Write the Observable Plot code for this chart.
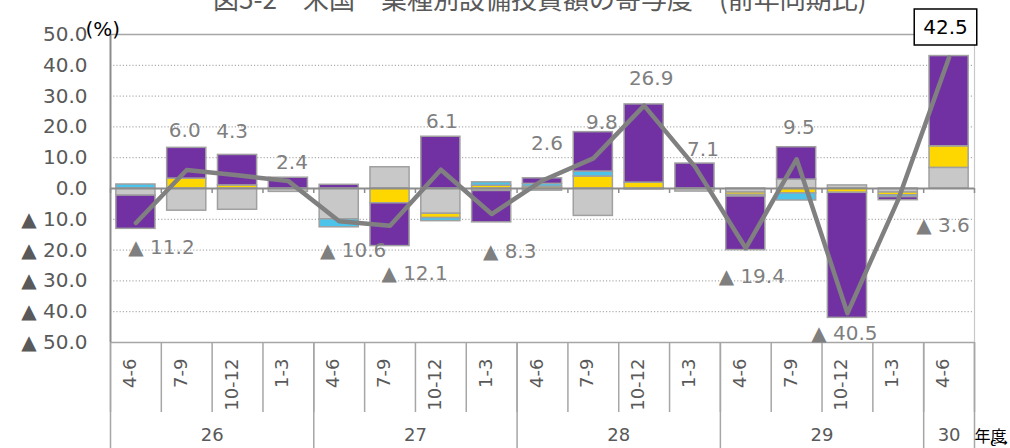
<!DOCTYPE html>
<html><head><meta charset="utf-8">
<script src="https://cdn.jsdelivr.net/npm/d3@7"></script>
<script src="https://cdn.jsdelivr.net/npm/@observablehq/plot@0.6"></script>
<style>
body{margin:0;background:#fff;}
#wrap{position:relative;width:1010px;height:448px;overflow:hidden;background:#fff;}
#title{position:absolute;z-index:2;left:213px;top:-17px;font-family:"Noto Sans CJK JP";font-size:26px;line-height:30px;color:#595959;white-space:nowrap;}
</style></head>
<body><div id="wrap"></div>
<script>
// ---- data ----
const quarters = ["4-6","7-9","10-12","1-3","4-6","7-9","10-12","1-3","4-6","7-9","10-12","1-3","4-6","7-9","10-12","1-3","4-6"];
const years = ["26","27","28","29","30"];
const quartersPerYear = [4,4,4,4,1];
const seriesNames = ["系列1","系列2","系列3","系列4"];
const seriesColors = ["#C8C8C8","#FFD700","#4CC3EA","#7131A3"];
const seriesGray   = [-2.3,-7.2,-6.9,-1.1,-10.0, 6.9,-8.2,-0.8,-0.7,-8.9,-0.3,-1.0,-1.3, 2.9,  1.0,-1.3, 6.7];
const seriesYellow = [ 0.0, 3.2, 1.0, 0.0,  0.0,-4.8,-1.4, 0.9, 0.6, 3.9, 1.9, 0.0,-0.8,-1.6, -1.4,-0.9, 7.0];
const seriesBlue   = [ 1.3, 0.0, 0.0, 0.0, -2.6, 0.0,-1.0, 1.1, 0.9, 1.6, 0.0, 0.0,-0.5,-2.3,  0.0,-0.6, 0.0];
const seriesPurple = [-10.8,10.0, 9.9, 3.5, 1.2,-13.9,16.8,-10.2,1.8,12.8,25.4, 8.1,-17.4,10.5,-40.6,-1.0,29.3];
const totals = [-11.2, 6.0, 4.3, 2.4, -10.6, -12.1, 6.1, -8.3, 2.6, 9.8, 26.9, 7.1, -19.4, 9.5, -40.5, -3.6, 42.5];
const yTicks = [-50,-40,-30,-20,-10,0,10,20,30,40,50];
const yUnit = "(%)";
const yearUnit = "年度";
const titleText = "図5-2　米国　業種別設備投資額の寄与度　(前年同期比)";

// ---- chart ----
const seriesValues = [seriesGray, seriesYellow, seriesBlue, seriesPurple];
const pad = 0.115;
const rows = [];
quarters.forEach((q, i) => {
  seriesValues.forEach((vals, s) => {
    if (vals[i] !== 0) rows.push({i, series: seriesNames[s], value: vals[i]});
  });
});
const pts = totals.map((v, i) => ({i, v}));
const yearRows = [];
{ let start = 0; years.forEach((y, k) => { yearRows.push({label: y, c: start + quartersPerYear[k] / 2}); start += quartersPerYear[k]; }); }
const yearBounds = [0]; quartersPerYear.reduce((a, n) => { yearBounds.push(a + n); return a + n; }, 0);
const n = quarters.length;
const fmt = v => v < 0 ? "▲ " + Math.abs(v).toFixed(1) : v.toFixed(1);
const nudge = [[25.6,25],[-2,-39],[-5.5,-44],[3.6,-19],[14,29],[24.5,48],[1,-48],[18,38],[4.5,-37],[8.6,-36],[7,-27],[8,-17],[6,28],[2.3,-32],[-3,20],[44.7,26],[-3.6,-30]];
const font = "DejaVu Sans";

const labelMarks = pts.map((p, k) => Plot.text([p], {
  x: d => d.i + 0.5, y: "v", text: d => fmt(d.v),
  dx: nudge[k][0], dy: nudge[k][1],
  fontSize: 20, fontFamily: font,
  fill: k === n - 1 ? "#000" : "#7f7f7f",
  className: k === n - 1 ? "boxlabel" : undefined
}));

const svg = Plot.plot({
  width: 1010, height: 448,
  marginLeft: 110, marginRight: 36, marginTop: 34, marginBottom: 106,
  style: {fontFamily: font, background: "transparent", overflow: "visible"},
  x: {domain: [0, n], axis: null},
  y: {domain: [-50, 50], axis: null},
  color: {domain: seriesNames, range: seriesColors},
  marks: [
    Plot.gridY(yTicks.filter(t => t !== 0 && Math.abs(t) !== 50), {stroke: "#9a9a9a", strokeOpacity: 1, strokeWidth: 1, strokeDasharray: "1.2,2"}),
    Plot.ruleY([50], {stroke: "#a6a6a6", strokeWidth: 1.5}),
    Plot.ruleX([n], {stroke: "#c8c8c8", strokeWidth: 1.2}),
    Plot.axisX({ticks: d3.range(0, n + 1), tickSize: 70, tickFormat: () => "", stroke: "#a6a6a6", strokeWidth: 1.5, strokeOpacity: 1}),
    Plot.axisX({ticks: yearBounds, tickSize: 106, tickFormat: () => "", stroke: "#a6a6a6", strokeWidth: 1.5, strokeOpacity: 1}),
    Plot.ruleY([-50], {stroke: "#a6a6a6", strokeWidth: 1.5}),
    Plot.ruleX([0], {y1: d => 50, y2: d => -50, stroke: "#8c8c8c", strokeWidth: 2}),
    Plot.axisY({ticks: yTicks, tickSize: 0, tickPadding: 23, tickFormat: fmt, fontSize: 20, fill: "#595959"}),
    Plot.rectY(rows, Plot.stackY({x1: d => d.i + pad, x2: d => d.i + 1 - pad, y: "value", fill: "series", stroke: "#a0a0a0", strokeWidth: 1.5, order: null})),
    Plot.ruleY([0], {stroke: "#8c8c8c", strokeWidth: 2}),
    Plot.ruleX(d3.range(0, n + 1), {x: d => d, y1: d => 0, y2: d => 0, insetBottom: -5, stroke: "#8c8c8c", strokeWidth: 1.5}),
    Plot.line(pts, {x: d => d.i + 0.5, y: "v", stroke: "#808080", strokeWidth: 4.5, strokeLinejoin: "round"}),
    ...labelMarks,
    Plot.text(quarters.map((q, i) => ({q, i})), {x: d => d.i + 0.5, text: "q", frameAnchor: "bottom", rotate: -90, textAnchor: "end", dy: 16, fontSize: 18, fill: "#595959"}),
    Plot.text(yearRows, {x: "c", text: "label", frameAnchor: "bottom", dy: 98, fontSize: 18, fill: "#595959"}),
    Plot.text([yearUnit], {frameAnchor: "bottom-right", textAnchor: "start", dx: 0, dy: 99, fontSize: 16, fill: "#000", fontFamily: "Noto Sans CJK JP"}),
    Plot.text([yUnit], {frameAnchor: "top-left", textAnchor: "start", dx: -25, dy: -13, fontSize: 20, fill: "#000"})
  ]
});
const wrap = document.getElementById("wrap");
wrap.appendChild(svg);
const title = document.createElement("div");
title.id = "title"; title.textContent = titleText;
wrap.appendChild(title);

// box around the last label
const t = svg.querySelector(".boxlabel text");
if (t) {
  const bb = t.getBBox();
  const r = document.createElementNS("http://www.w3.org/2000/svg", "rect");
  const tr = t.getAttribute("transform");
  if (tr) r.setAttribute("transform", tr);
  r.setAttribute("x", bb.x - 9); r.setAttribute("y", bb.y - 6);
  r.setAttribute("width", bb.width + 18); r.setAttribute("height", bb.height + 12);
  r.setAttribute("fill", "#fff"); r.setAttribute("stroke", "#000"); r.setAttribute("stroke-width", 1.5);
  t.parentNode.insertBefore(r, t);
}
</script>
</body></html>
